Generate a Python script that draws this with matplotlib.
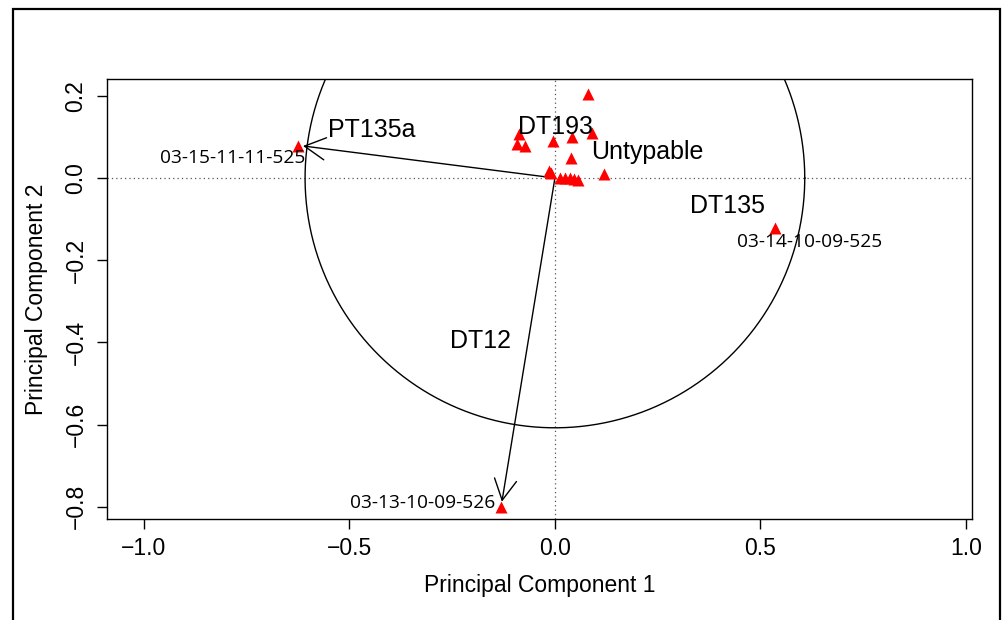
import numpy as np
import matplotlib
matplotlib.use("Agg")
import matplotlib.pyplot as plt
from matplotlib.patches import Rectangle

# ---- data ----
cluster_pc1 = [0.080, -0.088, -0.092, -0.073, -0.005, 0.041, 0.090, 0.039, 0.119,
               -0.015, -0.010, 0.012, 0.024, 0.036, 0.046, 0.056]
cluster_pc2 = [0.204, 0.107, 0.083, 0.078, 0.090, 0.100, 0.109, 0.049, 0.010,
               0.017, 0.012, 0.000, 0.000, 0.000, -0.002, -0.005]

sample_names = ["03-15-11-11-525", "03-14-10-09-525", "03-13-10-09-526"]
sample_pc1 = [-0.625, 0.535, -0.131]
sample_pc2 = [0.078, -0.122, -0.800]

loading_names = ["PT135a", "DT12"]
loading_pc1 = [-0.613, -0.129]
loading_pc2 = [0.078, -0.788]

group_names = ["PT135a", "DT193", "Untypable", "DT135", "DT12"]
group_pc1 = [-0.445, 0.002, 0.224, 0.421, -0.180]
group_pc2 = [0.117, 0.124, 0.063, -0.068, -0.397]

circle_radius = 0.608

x_ticks = [-1.0, -0.5, 0.0, 0.5, 1.0]
y_ticks = [-0.8, -0.6, -0.4, -0.2, 0.0, 0.2]

# ---- figure ----
plt.rcParams["font.family"] = ["Liberation Sans", "DejaVu Sans"]
fig = plt.figure(figsize=(10.08, 6.2), dpi=100)
ax = fig.add_axes([107 / 1008, 1 - 519 / 620, 865 / 1008, 440 / 620])

ax.set_xlim(-1.09, 1.015)
ax.set_ylim(-0.830, 0.241)

# reference lines
ax.axhline(0, color="#555555", lw=0.9, ls=(0, (1, 2.5)), zorder=1)
ax.axvline(0, color="#555555", lw=0.9, ls=(0, (1, 2.5)), zorder=1)

# circle
theta = np.linspace(0, 2 * np.pi, 400)
ax.plot(circle_radius * np.cos(theta), circle_radius * np.sin(theta),
        color="black", lw=1.0, zorder=2)

# arrows
for lx, ly in zip(loading_pc1, loading_pc2):
    ax.annotate("", xy=(lx, ly), xytext=(0, 0),
                arrowprops=dict(arrowstyle="->,head_length=0.75,head_width=0.4",
                                mutation_scale=20, lw=1.0, color="black",
                                shrinkA=0, shrinkB=0),
                zorder=3)

# points
ax.plot(cluster_pc1, cluster_pc2, ls="none", marker="^", ms=8,
        color="#ff0000", mec="none", zorder=4)
ax.plot(sample_pc1, sample_pc2, ls="none", marker="^", ms=8,
        color="#ff0000", mec="none", zorder=4)

# sample labels
sample_offsets = [(5, -9), (25, -10), (-4, 3)]
sample_ha = ["right", "center", "right"]
for name, sx, sy, off, ha in zip(sample_names, sample_pc1, sample_pc2,
                                 sample_offsets, sample_ha):
    ax.annotate(name, xy=(sx, sy), xytext=off, textcoords="offset points",
                ha=ha, va="center", fontsize=13.8, family="Open Sans", zorder=5)

# group labels
for name, gx, gy in zip(group_names, group_pc1, group_pc2):
    ax.text(gx, gy, name, ha="center", va="center", fontsize=18, zorder=5)

# axes styling
for s in ax.spines.values():
    s.set_linewidth(1.0)
ax.set_xticks(x_ticks)
ax.set_xticklabels(["\u22121.0", "\u22120.5", "0.0", "0.5", "1.0"])
ax.set_yticks(y_ticks)
ax.set_yticklabels(["\u22120.8", "\u22120.6", "\u22120.4", "\u22120.2", "0.0", "0.2"],
                   rotation=90, va="center")
ax.tick_params(direction="out", length=7, width=1, labelsize=16.5, pad=6)
ax.tick_params(axis="y", pad=7)
ax.set_xlabel("Principal Component 1", fontsize=16.5, labelpad=10)
ax.set_ylabel("Principal Component 2", fontsize=16.5, labelpad=12)

# outer frame
fig.patches.append(Rectangle((13 / 1008, -0.05), (1000 - 13) / 1008, 1.05 - 9 / 620,
                             transform=fig.transFigure, fill=False,
                             lw=1.6, ec="black"))

fig.savefig("out.png", dpi=100)
